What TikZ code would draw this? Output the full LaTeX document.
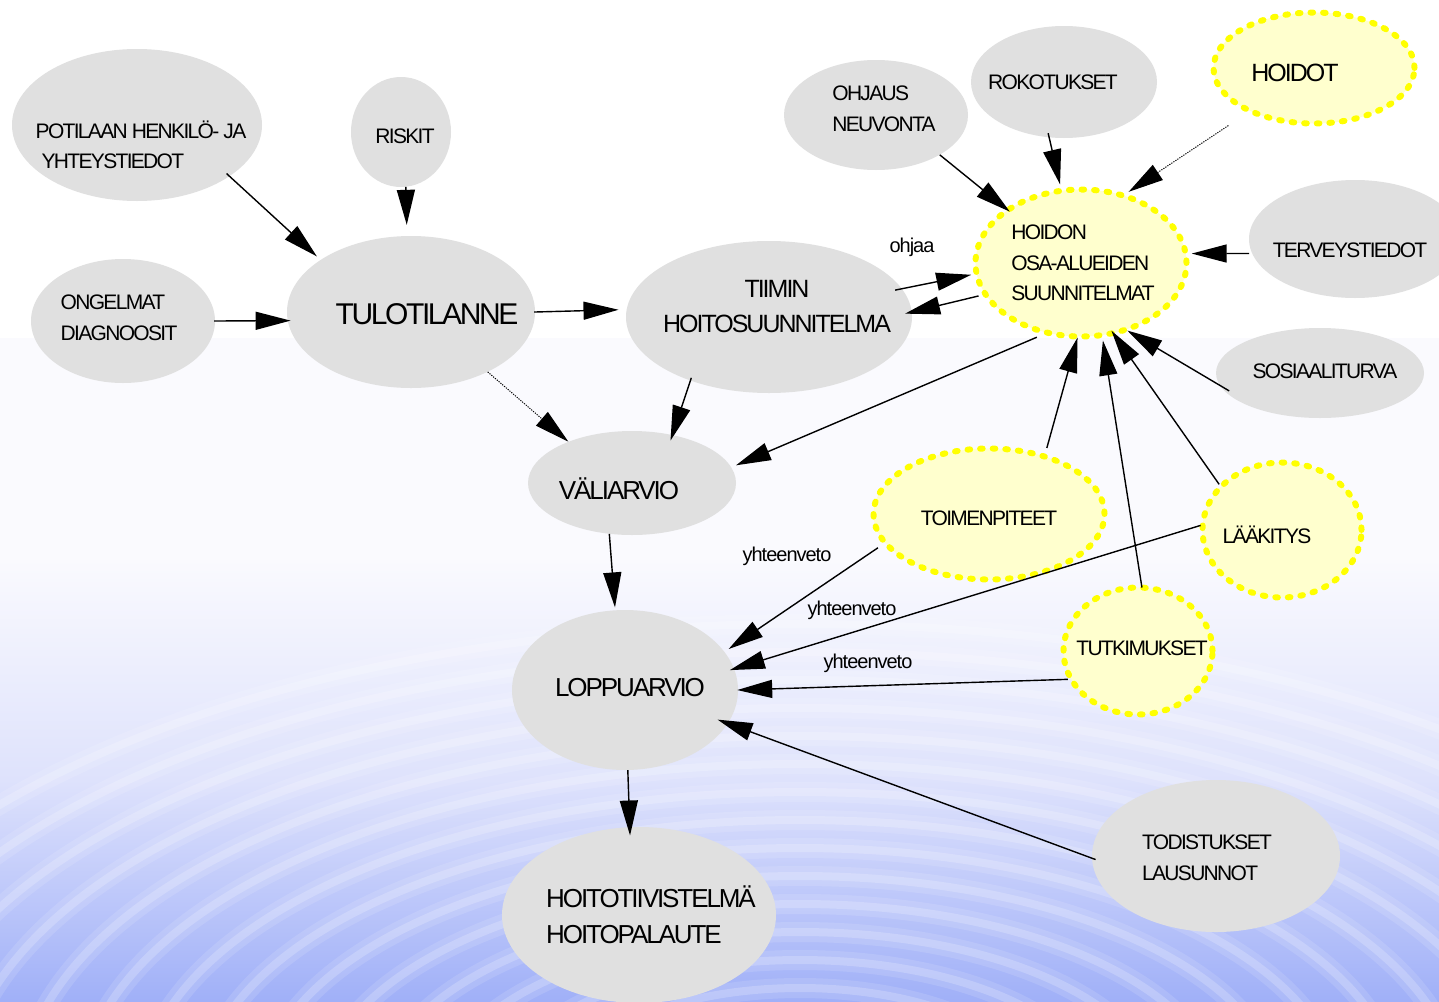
\documentclass[tikz,border=0pt]{standalone}
\usepackage{fontspec}
\usetikzlibrary{shapes.geometric,arrows.meta}
\newfontfamily\nf{Liberation Sans}[LetterSpace=-8]
\newfontfamily\lf{Liberation Sans}[LetterSpace=-5]
\definecolor{ngray}{RGB}{224,224,224}
\definecolor{pyel}{RGB}{255,255,206}
\definecolor{dyel}{RGB}{255,255,0}
\definecolor{bgtop}{RGB}{250,250,254}
\definecolor{bgmid}{RGB}{222,226,252}
\definecolor{bgbot}{RGB}{160,176,248}
\tikzset{
  gnode/.style={ellipse, fill=ngray, inner sep=0pt},
  ynode/.style={ellipse, fill=pyel, draw=dyel, line width=6pt, dash pattern=on 2.6pt off 10pt, line cap=round, inner sep=0pt},
  txt/.style={font=\nf\fontsize{21}{30.5}\selectfont, align=left, inner sep=0pt, text=black},
  arr/.style={-{Triangle[length=35pt,width=18pt]}, line width=1.4pt, black},
  darr/.style={arr, line width=1pt, dash pattern=on 1.2pt off 1.2pt},
  lbl/.style={font=\lf\fontsize{20}{24}\selectfont, inner sep=0pt},
  ripwide/.style={white, opacity=0.12, line width=20pt},
  ripthin/.style={white, opacity=0.2, line width=8pt},
}
\begin{document}
\begin{tikzpicture}[x=1pt, y=-1pt]
\useasboundingbox (0,0) rectangle (1439,1001);
\clip (0,0) rectangle (1439,1001);
% background
\fill[white] (0,0) rectangle (1439,1001);
\fill[bgtop] (0,338) rectangle (1439,560);
\shade[top color=bgtop, bottom color=bgbot, middle color=bgmid] (0,559) rectangle (1439,1001);
\begin{scope}
  \clip (0,600) rectangle (1439,1001);
  \foreach \r in {3,...,17} {
    \draw[ripwide] (800,1100) ellipse ({\r*60} and {\r*28});
    \draw[ripthin] (800,1100) ellipse ({\r*60} and {\r*28});
  }
\end{scope}

% nodes
\node[gnode, minimum width=250, minimum height=152,
  label={[txt, xshift=4, yshift=-20]center:{POTILAAN HENKILÖ- JA\\\hspace*{6pt}YHTEYSTIEDOT}}] (pot) at (137,125) {};
\node[gnode, minimum width=100, minimum height=110,
  label={[txt, xshift=4, yshift=-4]center:{RISKIT}}] (risk) at (401,132) {};
\node[gnode, minimum width=184, minimum height=124,
  label={[txt, xshift=-4, yshift=3]center:{ONGELMAT\\DIAGNOOSIT}}] (ong) at (123,321) {};
\node[gnode, minimum width=248, minimum height=152,
  label={[txt, font=\nf\fontsize{30}{36}\selectfont, xshift=16, yshift=-2]center:{TULOTILANNE}}] (tulo) at (411,312) {};
\node[gnode, minimum width=286, minimum height=152,
  label={[txt, align=center, font=\nf\fontsize{25}{35}\selectfont, xshift=8, yshift=10]center:{TIIMIN\\HOITOSUUNNITELMA}}] (tiim) at (769,317) {};
\node[ynode, minimum width=211, minimum height=147,
  label={[txt, xshift=2, yshift=0]center:{HOIDON\\OSA-ALUEIDEN\\SUUNNITELMAT}}] (hoid) at (1081,263) {};
\node[gnode, minimum width=184, minimum height=110,
  label={[txt, xshift=8, yshift=6]center:{OHJAUS\\NEUVONTA}}] (ohj) at (876,115) {};
\node[gnode, minimum width=186, minimum height=112,
  label={[txt, xshift=-11, yshift=0]center:{ROKOTUKSET}}] (rok) at (1064,82) {};
\node[ynode, minimum width=201, minimum height=111,
  label={[txt, font=\nf\fontsize{25}{30}\selectfont, xshift=-19, yshift=-5]center:{HOIDOT}}] (hoidot) at (1314,68) {};
\node[gnode, minimum width=212, minimum height=118,
  label={[txt, xshift=-5, yshift=-11]center:{TERVEYSTIEDOT}}] (terv) at (1355,239) {};
\node[gnode, minimum width=208, minimum height=90,
  label={[txt, xshift=5, yshift=2]center:{SOSIAALITURVA}}] (sos) at (1320,373) {};
\node[gnode, minimum width=208, minimum height=104,
  label={[txt, font=\nf\fontsize{26}{30}\selectfont, xshift=-13, yshift=-6]center:{VÄLIARVIO}}] (vali) at (632,483) {};
\node[ynode, minimum width=231, minimum height=131,
  label={[txt, xshift=0, yshift=-4]center:{TOIMENPITEET}}] (toim) at (989,514) {};
\node[ynode, minimum width=159, minimum height=135,
  label={[txt, xshift=-15, yshift=-5]center:{LÄÄKITYS}}] (laak) at (1282,530) {};
\node[ynode, minimum width=149, minimum height=127,
  label={[txt, xshift=4, yshift=3]center:{TUTKIMUKSET}}] (tutk) at (1138,651) {};
\node[gnode, minimum width=226, minimum height=160,
  label={[txt, font=\nf\fontsize{26}{30}\selectfont, xshift=5, yshift=2]center:{LOPPUARVIO}}] (lopp) at (625,690) {};
\node[gnode, minimum width=274, minimum height=176,
  label={[txt, font=\nf\fontsize{26}{36}\selectfont, xshift=12, yshift=0]center:{HOITOTIIVISTELMÄ\\HOITOPALAUTE}}] (hoito) at (639,915) {};
\node[gnode, minimum width=248, minimum height=152,
  label={[txt, xshift=-9, yshift=-2]center:{TODISTUKSET\\LAUSUNNOT}}] (todi) at (1216,856) {};

% edge labels
\node[lbl] (l1) at (912,247) {ohjaa};
\node[lbl] (l2) at (787,556) {yhteenveto};
\node[lbl] (l3) at (852,610) {yhteenveto};
\node[lbl] (l4) at (868,663) {yhteenveto};

% connectors
\draw[arr, shorten <=-4pt, shorten >=5pt] (pot.-29.8) -- (tulo.150.4);
\draw[arr, shorten >=11pt] (risk.-85.7) -- (tulo.93.3);
\draw[arr, shorten <=-1pt, shorten >=-3pt] (ong.-0.6) -- (tulo.184.8);
\draw[arr, shorten <=-1pt, shorten >=8pt] (tulo.0.5) -- (tiim.177.7);
\draw[darr] (tulo.-38.7) -- (vali.147.8);
\draw[arr, shorten <=-3pt, shorten >=-6pt] (tiim.-141.6) -- (vali.50.1);
\draw[arr, shorten <=-7pt, shorten >=2.5pt] (tiim.12.6) -- (hoid.186.8);
\draw[arr, shorten <=4pt, shorten >=-7pt] (hoid.198.6) -- (tiim.2.5);
\draw[arr, shorten >=-5.6pt] (ohj.-32) -- (hoid.144.3);
\draw[arr, shorten <=-4.4pt, shorten >=3.5pt] (rok.-105.4) -- (hoid.105.1);
\draw[darr, shorten <=23pt, shorten >=3pt] (hoidot.-146.5) -- (hoid.57.4);
\draw[arr, shorten <=3pt, shorten >=3pt] (terv.188.7) -- (hoid.5.2);
\draw[arr, shorten <=-11pt, shorten >=-2pt] (sos.187.8) -- (hoid.-55.5);
\draw[arr, shorten <=6.6pt, shorten >=5pt] (hoid.-118) -- (vali.9.9);
\draw[arr, shorten <=6pt, shorten >=-2pt] (toim.47.4) -- (hoid.-93.1);
\draw[arr, shorten <=-3pt, shorten >=2.5pt] (tutk.87.3) -- (hoid.-74.1);
\draw[arr, shorten >=-6pt] (laak.144.9) -- (hoid.-65.2);
\draw[arr, shorten >=2.7pt] (vali.-114.7) -- (lopp.97.6);
\draw[arr, shorten <=6pt, shorten >=5pt] (toim.196.6) -- (lopp.21);
\draw[arr, shorten <=-1pt, shorten >=-4.5pt] (laak.177.9) -- (lopp.11.9);
\draw[arr, shorten >=-1pt] (tutk.202.8) -- (lopp.0);
\draw[arr, shorten <=-4pt, shorten >=-11pt] (todi.181) -- (lopp.-18.1);
\draw[arr, shorten >=-8.5pt] (lopp.-88.6) -- (hoito.96.5);
\end{tikzpicture}
\end{document}
